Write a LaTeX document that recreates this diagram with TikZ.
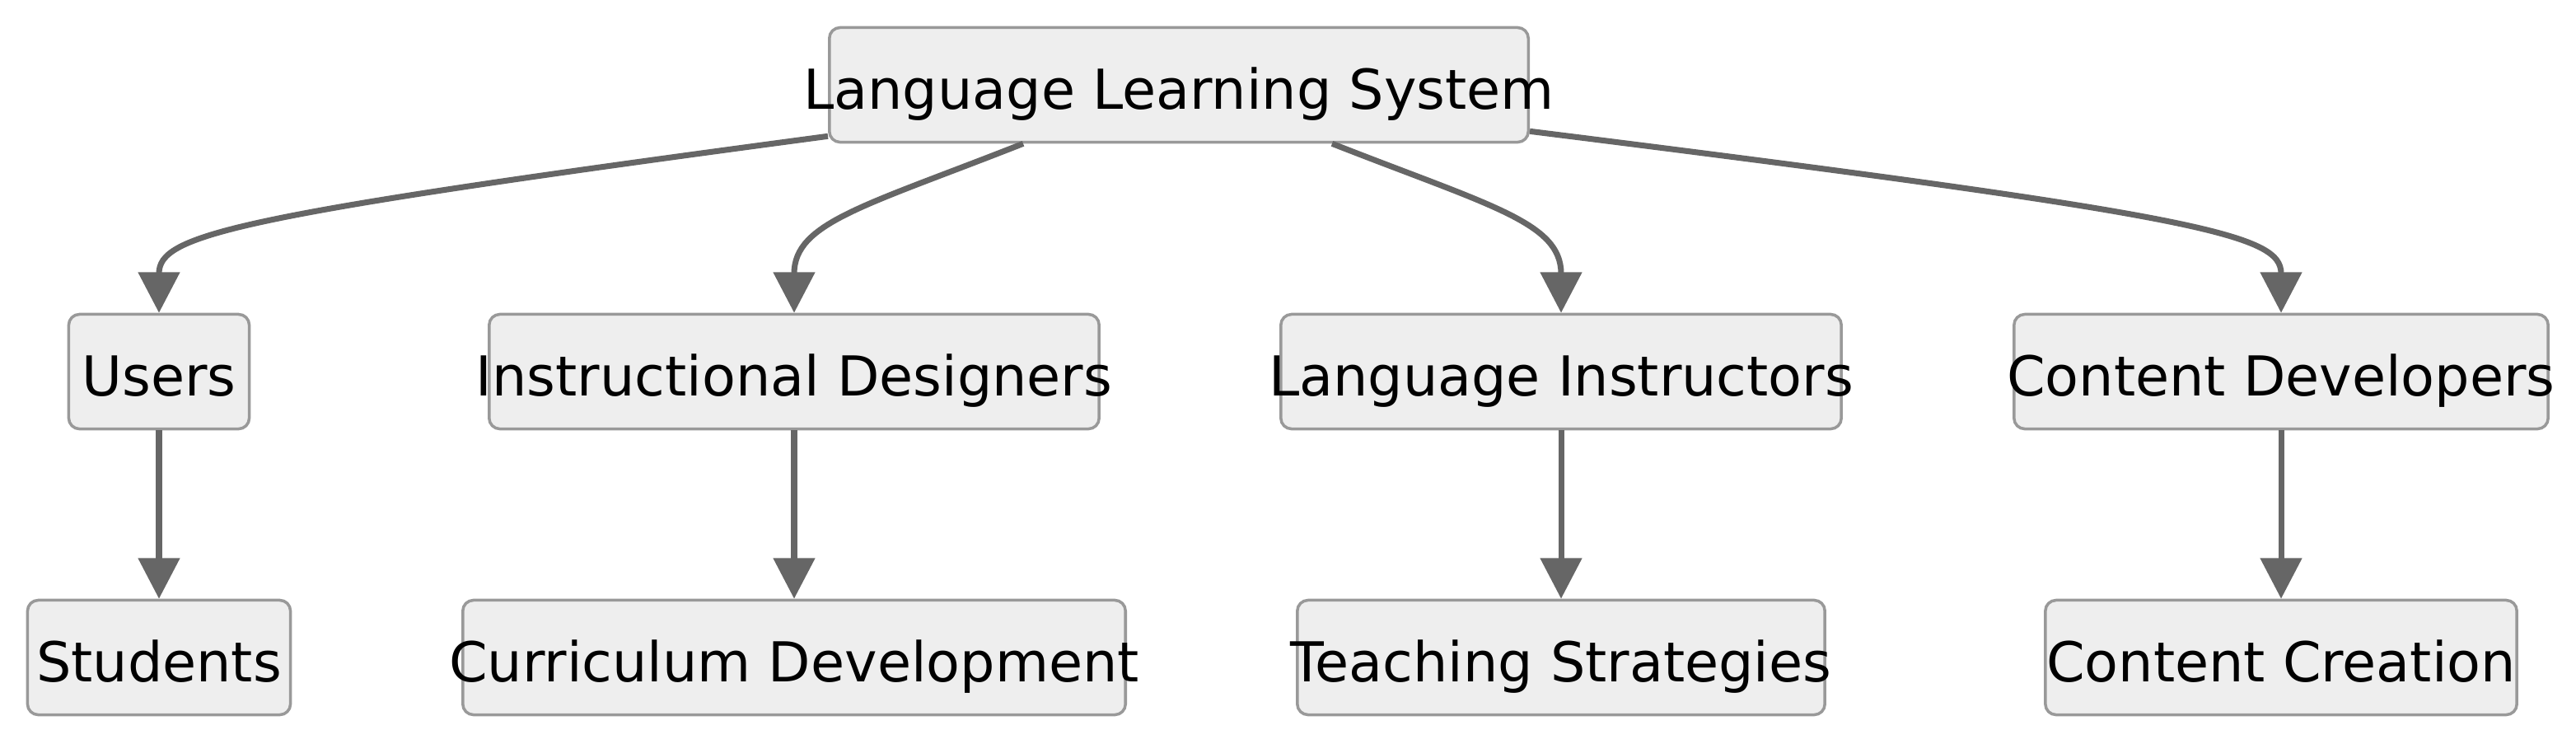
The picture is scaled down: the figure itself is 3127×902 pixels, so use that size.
\documentclass[tikz,border=0pt]{standalone}
\usepackage{fontspec}
\setmainfont{DejaVu Sans}
\usetikzlibrary{arrows.meta,calc}

\definecolor{BoxFill}{HTML}{EEEEEE}
\definecolor{BoxLine}{HTML}{999999}
\definecolor{EdgeGray}{HTML}{666666}

\begin{document}
\begin{tikzpicture}[x=0.01cm, y=-0.01cm,
  box/.style={draw=BoxLine, fill=BoxFill, line width=1pt, rounded corners=3.7pt,
    inner sep=0pt, minimum height=1.39cm, text height=0.58cm, text depth=0cm,
    font=\fontsize{19}{22}\selectfont},
  link/.style={draw=EdgeGray, line width=2pt, -{Triangle[width=14pt,length=14pt]}}]

 \useasboundingbox (0,0) rectangle (3127,902);

 %%%%%%%%%% Top %%%%%%%%%%
 \node[box, minimum width=8.48cm] (lls) at (1431,103) {\makebox[0pt]{Language Learning System}};

 %%%%%%%%%% Roles %%%%%%%%%%
 \node[box, minimum width=2.19cm] (users) at (193,451) {\makebox[0pt]{Users}};
 \node[box, minimum width=7.40cm] (designers) at (964,451) {\makebox[0pt]{Instructional Designers}};
 \node[box, minimum width=6.80cm] (instructors) at (1895,451) {\makebox[0pt]{Language Instructors}};
 \node[box, minimum width=6.48cm] (developers) at (2769,451) {\makebox[0pt]{Content Developers}};

 %%%%%%%%%% Tasks %%%%%%%%%%
 \node[box, minimum width=3.19cm] (students) at (193,798) {\makebox[0pt]{Students}};
 \node[box, minimum width=8.04cm] (curriculum) at (964,798) {\makebox[0pt]{Curriculum Development}};
 \node[box, minimum width=6.40cm] (teaching) at (1895,798) {\makebox[0pt]{Teaching Strategies}};
 \node[box, minimum width=5.72cm] (creation) at (2769,798) {\makebox[0pt]{Content Creation}};

 % Top to roles
 \draw[link] ($(lls.south west)+(0,-9)$) .. controls (280,262) and (193,285) .. (users.north);
 \draw[link] ($(lls.south)+(-189,0)$) .. controls (1050,250) and (964,270) .. (designers.north);
 \draw[link] ($(lls.south)+(186,0)$) .. controls (1810,250) and (1895,270) .. (instructors.north);
 \draw[link] ($(lls.south east)+(0,-15)$) .. controls (2680,262) and (2769,285) .. (developers.north);

 % Roles to tasks
 \draw[link] (users) -- (students);
 \draw[link] (designers) -- (curriculum);
 \draw[link] (instructors) -- (teaching);
 \draw[link] (developers) -- (creation);

\end{tikzpicture}
\end{document}
